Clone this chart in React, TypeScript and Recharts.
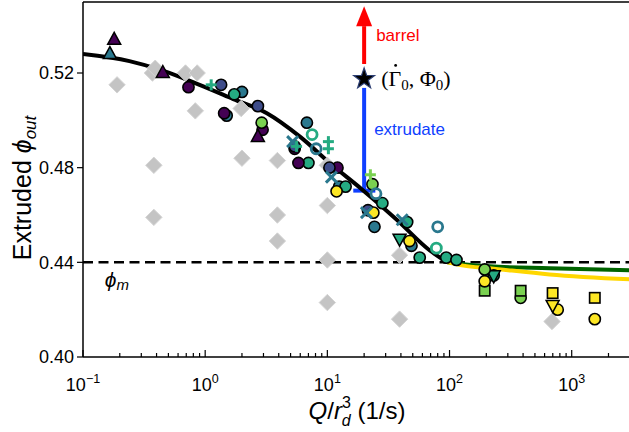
import React from 'react';
import { ComposedChart, XAxis, YAxis, Line, Scatter, ReferenceLine } from 'recharts';

const W = 630;
const H = 432;
const TOP = 2;
const BOTTOM = 357;
const SANS = 'Arial, "Liberation Sans", sans-serif';
const SERIF = '"Liberation Serif", "DejaVu Serif", serif';

// fitted curves
const fitX = [0.1, 0.24, 0.45, 0.9, 1.7, 3.2, 6, 11, 19, 37, 69, 96];
const fitY = [0.528, 0.525, 0.521, 0.515, 0.509, 0.503, 0.493, 0.481, 0.471, 0.458, 0.445, 0.44];
const greenX = [96, 130, 213, 660, 3000];
const greenY = [0.44, 0.4392, 0.4383, 0.4375, 0.4366];
const goldX = [96, 130, 213, 660, 3000];
const goldY = [0.44, 0.4386, 0.4375, 0.4349, 0.4328];

// measurements
const greyX = [0.19, 0.37, 0.39, 0.69, 0.86, 0.83, 0.38, 0.38, 1.97, 2.0, 3.9, 3.9, 3.9, 10, 10, 10, 10, 39, 39, 690];
const greyY = [0.515, 0.52, 0.522, 0.52, 0.52, 0.504, 0.481, 0.459, 0.505, 0.484, 0.483, 0.46, 0.449, 0.481, 0.464, 0.441, 0.423, 0.443, 0.416, 0.415];

const tealX = [1.5, 2.0, 6.8, 12.5, 24.3, 48.8];
const tealY = [0.502, 0.512, 0.499, 0.472, 0.455, 0.447];
const tealTriX = [0.166];
const tealTriY = [0.528];
const tealCrossX = [5.2, 10.8, 20.9, 41];
const tealCrossY = [0.491, 0.476, 0.461, 0.458];
const tealRingX = [8.1, 25, 80];
const tealRingY = [0.488, 0.469, 0.455];

const seaX = [1.73, 7.0, 14.1, 28.2, 45, 57, 94, 114, 230];
const seaY = [0.511, 0.482, 0.472, 0.465, 0.457, 0.442, 0.442, 0.441, 0.4345];
const seaRingX = [7.5, 78];
const seaRingY = [0.494, 0.446];
const seaPlusX = [1.12, 5.6, 10.2, 10.2];
const seaPlusY = [0.515, 0.489, 0.491, 0.488];
const seaDownX = [39, 230];
const seaDownY = [0.45, 0.4345];

const purpleX = [0.73, 1.43, 2.95, 5.4, 5.8, 12.1];
const purpleY = [0.514, 0.503, 0.496, 0.488, 0.482, 0.48];
const purpleTriX = [0.18, 0.45, 2.7];
const purpleTriY = [0.534, 0.52, 0.493];

const navyX = [1.35, 2.7, 5.4, 10.4, 21.5];
const navyY = [0.515, 0.506, 0.489, 0.48, 0.462];

const limeX = [2.9, 23.4, 194, 382];
const limeY = [0.499, 0.473, 0.437, 0.425];
const limePlusX = [22.5];
const limePlusY = [0.477];
const limeSqX = [194, 382];
const limeSqY = [0.428, 0.428];

const yellowX = [11.9, 23.8, 47, 194, 768, 1545];
const yellowY = [0.47, 0.461, 0.449, 0.432, 0.42, 0.416];
const yellowSqX = [698, 1545];
const yellowSqY = [0.427, 0.425];
const yellowDownX = [698];
const yellowDownY = [0.422];

// annotation
const starX = [20];
const starY = [0.5175];
const barrelTop = 0.5398;
const barrelBottom = 0.5238;
const extrTop = 0.5137;
const extrBottom = 0.4703;
const extrBarX = [16.3, 24.7];

const xMajor = [0.1, 1, 10, 100, 1000];
const xMajorExp = ['\u22121', '0', '1', '2', '3'];
const yTicks = [0.4, 0.44, 0.48, 0.52];

const xTicks: number[] = [];
xMajor.forEach((d) => {
  for (let k = 1; k <= 9; k++) {
    const v = d * k;
    if (v <= 3000) xTicks.push(Number(v.toPrecision(3)));
  }
});

const zip = (xs: number[], ys: number[]) => xs.map((x, i) => ({ x, y: ys[i] }));

const marker = (kind: string, color: string) => (p: any) => {
  const { cx, cy } = p;
  if (cx == null || cy == null) return <g />;
  switch (kind) {
    case 'o':
      return <circle cx={cx} cy={cy} r={5.6} fill={color} stroke="#000" strokeWidth={1.6} />;
    case 'ring':
      return <circle cx={cx} cy={cy} r={5} fill="none" stroke={color} strokeWidth={2.8} />;
    case '^':
      return (
        <polygon
          points={`${cx},${cy - 7.5} ${cx - 6.5},${cy + 4.5} ${cx + 6.5},${cy + 4.5}`}
          fill={color}
          stroke="#000"
          strokeWidth={1.5}
        />
      );
    case 'v':
      return (
        <polygon
          points={`${cx},${cy + 7.5} ${cx - 6.5},${cy - 4.5} ${cx + 6.5},${cy - 4.5}`}
          fill={color}
          stroke="#000"
          strokeWidth={1.5}
        />
      );
    case 's':
      return <rect x={cx - 5.2} y={cy - 5.2} width={10.4} height={10.4} fill={color} stroke="#000" strokeWidth={1.6} />;
    case 'D':
      return (
        <polygon
          points={`${cx},${cy - 8.2} ${cx + 8.2},${cy} ${cx},${cy + 8.2} ${cx - 8.2},${cy}`}
          fill={color}
          stroke="#d4d4d4"
          strokeWidth={1}
        />
      );
    case 'x':
      return (
        <g stroke={color} strokeWidth={3}>
          <line x1={cx - 5.5} y1={cy - 5.5} x2={cx + 5.5} y2={cy + 5.5} />
          <line x1={cx - 5.5} y1={cy + 5.5} x2={cx + 5.5} y2={cy - 5.5} />
        </g>
      );
    case '+':
      return (
        <g stroke={color} strokeWidth={3}>
          <line x1={cx - 5.5} y1={cy} x2={cx + 5.5} y2={cy} />
          <line x1={cx} y1={cy - 5.5} x2={cx} y2={cy + 5.5} />
        </g>
      );
    default:
      return <g />;
  }
};

const starShape = (p: any) => {
  const { cx, cy } = p;
  const pts: string[] = [];
  for (let i = 0; i < 10; i++) {
    const r = i % 2 === 0 ? 11 : 4.4;
    const a = -Math.PI / 2 + (i * Math.PI) / 5;
    pts.push(`${cx + r * Math.cos(a)},${cy + r * Math.sin(a)}`);
  }
  return <polygon points={pts.join(' ')} fill="#000" stroke="#2d3f73" strokeWidth={1.2} />;
};

const arrowHead = (p: any) => {
  const { cx, cy } = p;
  return <polygon points={`${cx},${cy - 20} ${cx - 8},${cy} ${cx + 8},${cy}`} fill="#ff0000" />;
};

const starLabel = (p: any) => {
  const { cx, cy } = p;
  return (
    <g>
      <text x={cx + 12} y={cy - 38} fontSize={17} fontFamily={SANS} fill="#ff0000">
        barrel
      </text>
      <text x={cx + 10} y={cy + 56} fontSize={17} fontFamily={SANS} fill="#0f3fff">
        extrudate
      </text>
      <text x={cx + 17} y={cy + 7} fontSize={22} fontFamily={SERIF} fill="#000">
        ({'\u0393'}
        <tspan fontSize={15} dy={4}>0</tspan>
        <tspan dy={-4}>, {'\u03A6'}</tspan>
        <tspan fontSize={15} dy={4}>0</tspan>
        <tspan dy={-4}>)</tspan>
      </text>
      <circle cx={cx + 31.5} cy={cy - 13.5} r={1.4} fill="#000" />
    </g>
  );
};

const XTick = (props: any) => {
  const { x, payload } = props;
  const v = payload.value;
  const i = xMajor.findIndex((m) => Math.abs(m - v) / m < 1e-6);
  const major = i >= 0;
  return (
    <g>
      <line x1={x} x2={x} y1={BOTTOM} y2={BOTTOM - (major ? 7 : 4)} stroke="#000" strokeWidth={1.2} />
      {major && (
        <text x={x} y={BOTTOM + 34} textAnchor="middle" fontSize={18} fontFamily={SANS} fill="#000">
          10
          <tspan fontSize={12.5} dy={-8}>
            {xMajorExp[i]}
          </tspan>
        </text>
      )}
    </g>
  );
};

const series = [
  { d: zip(greyX, greyY), kind: 'D', color: '#c4c4c4' },
  { d: zip(tealX, tealY), kind: 'o', color: '#2a788e' },
  { d: zip(tealTriX, tealTriY), kind: '^', color: '#2a788e' },
  { d: zip(seaX, seaY), kind: 'o', color: '#25ab82' },
  { d: zip(seaDownX, seaDownY), kind: 'v', color: '#25ab82' },
  { d: zip(purpleX, purpleY), kind: 'o', color: '#440154' },
  { d: zip(purpleTriX, purpleTriY), kind: '^', color: '#440154' },
  { d: zip(navyX, navyY), kind: 'o', color: '#3e4c8a' },
  { d: zip(limeX, limeY), kind: 'o', color: '#7ad151' },
  { d: zip(limeSqX, limeSqY), kind: 's', color: '#7ad151' },
  { d: zip(yellowX, yellowY), kind: 'o', color: '#fde725' },
  { d: zip(yellowSqX, yellowSqY), kind: 's', color: '#fde725' },
  { d: zip(yellowDownX, yellowDownY), kind: 'v', color: '#fde725' },
  { d: zip(tealRingX, tealRingY), kind: 'ring', color: '#2a788e' },
  { d: zip(seaRingX, seaRingY), kind: 'ring', color: '#25ab82' },
  { d: zip(tealCrossX, tealCrossY), kind: 'x', color: '#2a788e' },
  { d: zip(seaPlusX, seaPlusY), kind: '+', color: '#25ab82' },
  { d: zip(limePlusX, limePlusY), kind: '+', color: '#7ad151' },
];

export default function App() {
  return (
    <div style={{ position: 'absolute', left: 0, top: 0, width: W, height: H, background: '#fff' }}>
      <ComposedChart width={W} height={H} margin={{ top: TOP, right: 0, bottom: 0, left: 0 }}>
        <XAxis
          dataKey="x"
          type="number"
          scale="log"
          domain={[0.1, 3000]}
          allowDataOverflow
          ticks={xTicks}
          interval={0}
          height={H - BOTTOM}
          tick={<XTick />}
          tickLine={false}
          axisLine={{ stroke: '#000', strokeWidth: 1.5 }}
          label={{
            content: () => (
              <text x={357} y={419} textAnchor="middle" fontSize={24} fontFamily={SANS} fill="#000">
                <tspan fontStyle="italic">Q</tspan>/<tspan fontStyle="italic">r</tspan>
                <tspan fontSize={16} dy={-11}>3</tspan>
                <tspan fontSize={16} fontStyle="italic" dx={-9} dy={18}>d</tspan>
                <tspan dy={-7}> (1/s)</tspan>
              </text>
            ),
          }}
        />
        <YAxis
          dataKey="y"
          type="number"
          domain={[0.4, 0.55]}
          allowDataOverflow
          ticks={yTicks}
          width={83}
          tickFormatter={(v: number) => v.toFixed(2)}
          tick={{ fill: '#000', fontSize: 18, fontFamily: SANS }}
          tickSize={6}
          tickMargin={3}
          tickLine={{ stroke: '#000', strokeWidth: 1.2 }}
          axisLine={{ stroke: '#000', strokeWidth: 1.5 }}
          label={{
            content: () => (
              <text
                x={31}
                y={188}
                transform="rotate(-90 31 188)"
                textAnchor="middle"
                fontSize={25}
                fontFamily={SANS}
                fill="#000"
              >
                Extruded <tspan fontStyle="italic">{'\u03D5'}</tspan>
                <tspan fontStyle="italic" fontSize={17} dy={5}>out</tspan>
              </text>
            ),
          }}
        />
        <ReferenceLine y={0.55} stroke="#000" strokeWidth={1.3} />
        <ReferenceLine y={0.44} stroke="#000" strokeWidth={2.5} strokeDasharray="10 5.5" />
        <ReferenceLine
          segment={[{ x: starX[0], y: barrelBottom }, { x: starX[0], y: barrelTop }]}
          stroke="#ff0000"
          strokeWidth={4}
        />
        <ReferenceLine
          segment={[{ x: starX[0], y: extrTop }, { x: starX[0], y: extrBottom }]}
          stroke="#0f3fff"
          strokeWidth={4}
        />
        <ReferenceLine
          segment={[{ x: extrBarX[0], y: extrBottom }, { x: extrBarX[1], y: extrBottom }]}
          stroke="#0f3fff"
          strokeWidth={4}
        />
        {series.map((s, i) => (
          <Scatter key={i} data={s.d} shape={marker(s.kind, s.color)} isAnimationActive={false} />
        ))}
        <Line data={zip(fitX, fitY)} dataKey="y" type="monotone" stroke="#000" strokeWidth={4} dot={false} isAnimationActive={false} />
        <Line data={zip(greenX, greenY)} dataKey="y" type="monotone" stroke="#006400" strokeWidth={4} dot={false} isAnimationActive={false} />
        <Line data={zip(goldX, goldY)} dataKey="y" type="monotone" stroke="#ffd700" strokeWidth={4} dot={false} isAnimationActive={false} />
        <Scatter data={[{ x: starX[0], y: barrelTop }]} shape={arrowHead} isAnimationActive={false} />
        <Scatter data={zip(starX, starY)} shape={starShape} isAnimationActive={false} />
        <Scatter data={zip(starX, starY)} shape={starLabel} isAnimationActive={false} />
        <Scatter
          data={[{ x: 0.151, y: 0.4295 }]}
          shape={(p: any) => (
            <text x={p.cx} y={p.cy} fontSize={21} fontFamily={SANS} fill="#000" fontStyle="italic">
              {'\u03D5'}
              <tspan fontSize={15} dy={3}>m</tspan>
            </text>
          )}
          isAnimationActive={false}
        />
      </ComposedChart>
    </div>
  );
}
